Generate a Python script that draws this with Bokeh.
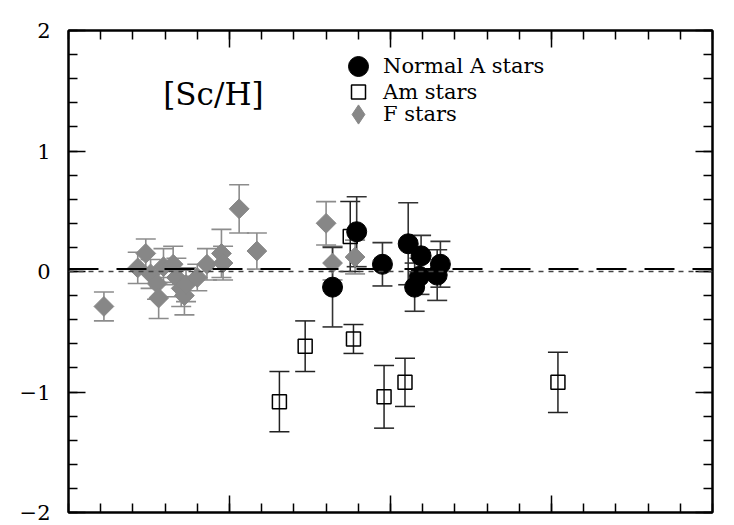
import math
from bokeh.plotting import figure
from bokeh.models import (ColumnDataSource, Range1d, LinearAxis, FixedTicker, Whisker,
                          TeeHead, Span, Label, Legend, LegendItem)
from bokeh.embed import file_html
from bokeh.resources import INLINE

# ---------------- data ----------------
# F stars
f_teff = [6220, 6430, 6480, 6510, 6550, 6560, 6590, 6650, 6670, 6700, 6720, 6730,
          6800, 6860, 6950, 6960, 7060, 7170, 7600, 7640, 7780]
f_abund = [-0.29, 0.03, 0.15, -0.02, -0.10, -0.22, 0.04, 0.06, -0.05, -0.14, -0.20, -0.11,
           -0.05, 0.06, 0.15, 0.07, 0.52, 0.17, 0.40, 0.07, 0.12]
f_err = [0.12, 0.13, 0.12, 0.12, 0.13, 0.17, 0.15, 0.15, 0.16, 0.15, 0.16, 0.14,
         0.11, 0.13, 0.20, 0.14, 0.20, 0.15, 0.18, 0.14, 0.14]

# Normal A stars
a_teff = [7640, 7790, 7950, 8110, 8190, 8150, 8180, 8310, 8290]
a_abund = [-0.13, 0.33, 0.06, 0.23, 0.13, -0.13, -0.04, 0.06, -0.03]
a_err = [0.33, 0.29, 0.18, 0.34, 0.17, 0.20, 0.15, 0.19, 0.21]

# Am stars
am_teff = [7310, 7470, 7750, 7770, 7960, 8090, 9040]
am_abund = [-1.08, -0.62, 0.29, -0.56, -1.04, -0.92, -0.92]
am_err = [0.25, 0.21, 0.29, 0.12, 0.26, 0.20, 0.25]

# axis ticks
y_major = [-2, -1, 0, 1, 2]
y_labels = ["\u22122", "\u22121", "0", "1", "2"]
x_major = [7000, 8000, 9000]

mean_level = 0.02
solar_level = 0.0


def src(x, y, e):
    return ColumnDataSource(dict(x=x, y=y,
                                 upper=[v + d for v, d in zip(y, e)],
                                 lower=[v - d for v, d in zip(y, e)]))


f_src = src(f_teff, f_abund, f_err)
a_src = src(a_teff, a_abund, a_err)
am_src = src(am_teff, am_abund, am_err)

p = figure(width=726, height=525, x_range=Range1d(6000, 10000), y_range=Range1d(-2, 2),
           output_backend="svg", toolbar_location=None,
           x_axis_location=None, y_axis_location=None,
           min_border_left=68, min_border_right=14, min_border_top=30, min_border_bottom=13)
p.xgrid.visible = False
p.ygrid.visible = False
p.outline_line_color = "black"
p.outline_line_width = 2
p.background_fill_color = "white"
p.border_fill_color = "white"

y_minor = [i / 10 for i in range(-20, 21, 2)]
x_minor = list(range(6000, 10001, 200))


def make_axis(cls, ticks, minor, labels=None):
    ax = cls(ticker=FixedTicker(ticks=ticks, minor_ticks=minor))
    ax.axis_line_width = 2
    ax.axis_line_color = "black"
    ax.major_tick_in = 17
    ax.major_tick_out = 0
    ax.minor_tick_in = 9
    ax.minor_tick_out = 0
    ax.major_tick_line_width = 1.5
    ax.minor_tick_line_width = 1.5
    ax.major_tick_line_color = "black"
    ax.minor_tick_line_color = "black"
    if labels is None:
        ax.major_label_overrides = {t: "" for t in ticks}
        ax.major_label_standoff = 0
        ax.major_label_text_font_size = "1px"
    else:
        ax.major_label_overrides = dict(zip(ticks, labels))
        ax.major_label_standoff = 18
        ax.major_label_text_font = "DejaVu Serif"
        ax.major_label_text_font_size = "21px"
        ax.major_label_text_color = "black"
    return ax


p.add_layout(make_axis(LinearAxis, y_major, y_minor, y_labels), "left")
p.add_layout(make_axis(LinearAxis, y_major, y_minor), "right")
p.add_layout(make_axis(LinearAxis, x_major, x_minor), "above")
p.add_layout(make_axis(LinearAxis, x_major, x_minor), "below")

# reference lines
p.add_layout(Span(location=solar_level, dimension="width", line_color="#444444",
                  line_width=1.5, line_dash="5 5"))
p.add_layout(Span(location=mean_level, dimension="width", line_color="black",
                  line_width=2, line_dash="30 18"))


# error bars
def whisk(source, color, width):
    w = Whisker(base="x", upper="upper", lower="lower", source=source,
                line_color=color, line_width=width,
                upper_head=TeeHead(size=20, line_color=color, line_width=width),
                lower_head=TeeHead(size=20, line_color=color, line_width=width))
    p.add_layout(w)


whisk(f_src, "#8c8c8c", 1.6)
whisk(am_src, "#222222", 1.5)
whisk(a_src, "#333333", 1.6)

f_r = p.scatter("x", "y", source=f_src, marker="square", size=14, angle=math.pi / 4,
                fill_color="#878787", line_color="#878787")
am_r = p.scatter("x", "y", source=am_src, marker="square", size=14,
                 fill_alpha=0, line_color="black", line_width=1.5)
a_r = p.scatter("x", "y", source=a_src, marker="circle", size=20,
                fill_color="black", line_color="black")
# key symbol for the F-star legend entry (legend keys are not rotated)
f_key = p.scatter("x", "y", source=f_src, marker="diamond", size=20,
                  fill_color="#878787", line_color="#878787", visible=False)

p.add_layout(Label(x=6900, y=1.47, text="[Sc/H]", text_font="DejaVu Serif",
                   text_font_size="31px", text_align="center", text_baseline="middle",
                   text_color="black"))


# legend (one box per entry so each symbol keeps its size); frame is 482 px tall
def add_legend(label, renderer, gh, vy):
    lg = Legend(items=[LegendItem(label=label, renderers=[renderer])],
                location=(265, vy), glyph_width=50, glyph_height=gh,
                label_standoff=0, padding=0, margin=0, spacing=0,
                border_line_color=None, background_fill_alpha=0,
                label_text_font="DejaVu Serif", label_text_font_size="21px",
                label_text_color="black")
    p.add_layout(lg)


add_legend("Normal A stars", a_r, 50, 421)
add_legend("Am stars", am_r, 35, 403)
add_legend("F stars", f_key, 48, 374)

open("out.html", "w").write(file_html(p, INLINE))
